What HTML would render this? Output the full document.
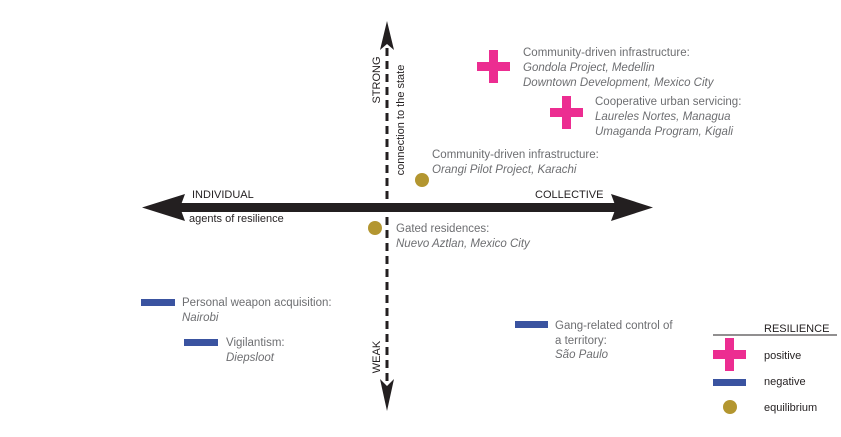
<!DOCTYPE html>
<html><head><meta charset="utf-8"><style>
html,body{margin:0;padding:0;background:#fff;}
svg{display:block;font-family:"Liberation Sans",sans-serif;}
.g{fill:#6d6e71;font-size:11.5px;}
.i{font-style:italic;}
.k{fill:#231f20;font-size:11px;}
</style></head><body>
<svg width="841" height="437" viewBox="0 0 841 437">
<!-- horizontal arrow -->
<rect x="180" y="203" width="438" height="9" fill="#231f20"/>
<polygon points="142,207.5 185,194 180,207.5 185,221" fill="#231f20"/>
<polygon points="653,207.5 611,194 616,207.5 611,221" fill="#231f20"/>
<!-- vertical dashed -->
<line x1="387" y1="48" x2="387" y2="385" stroke="#231f20" stroke-width="3" stroke-dasharray="8,5"/>
<polygon points="387,21 380,50 387,44 394,50" fill="#231f20"/>
<polygon points="387,411 380,379 387,386 394,379" fill="#231f20"/>
<text class="k" transform="translate(380,80) rotate(-90)" text-anchor="middle">STRONG</text>
<text class="k" transform="translate(404,120) rotate(-90)" text-anchor="middle">connection to the state</text>
<text class="k" transform="translate(380,357) rotate(-90)" text-anchor="middle">WEAK</text>
<text class="k" x="192" y="198">INDIVIDUAL</text>
<text class="k" x="535" y="198">COLLECTIVE</text>
<text class="k" x="189" y="222">agents of resilience</text>
<!-- crosses -->
<rect x="477" y="62" width="33" height="9" fill="#ec2d91"/><rect x="489" y="50" width="9" height="33" fill="#ec2d91"/>
<rect x="550" y="108" width="33" height="9" fill="#ec2d91"/><rect x="562" y="96" width="9" height="33" fill="#ec2d91"/>
<text class="g" x="523" y="56">Community-driven infrastructure:</text>
<text class="g i" x="523" y="71">Gondola Project, Medellin</text>
<text class="g i" x="523" y="86">Downtown Development, Mexico City</text>
<text class="g" x="595" y="105">Cooperative urban servicing:</text>
<text class="g i" x="595" y="120">Laureles Nortes, Managua</text>
<text class="g i" x="595" y="135">Umaganda Program, Kigali</text>
<circle cx="422" cy="180" r="7" fill="#b39630"/>
<text class="g" x="432" y="158">Community-driven infrastructure:</text>
<text class="g i" x="432" y="173">Orangi Pilot Project, Karachi</text>
<circle cx="375" cy="228" r="7" fill="#b39630"/>
<text class="g" x="396" y="232">Gated residences:</text>
<text class="g i" x="396" y="247">Nuevo Aztlan, Mexico City</text>
<!-- bars -->
<rect x="141" y="299" width="34" height="7" fill="#3a53a0"/>
<text class="g" x="182" y="306">Personal weapon acquisition:</text>
<text class="g i" x="182" y="321">Nairobi</text>
<rect x="184" y="339" width="34" height="7" fill="#3a53a0"/>
<text class="g" x="226" y="346">Vigilantism:</text>
<text class="g i" x="226" y="361">Diepsloot</text>
<rect x="515" y="321" width="33" height="7" fill="#3a53a0"/>
<text class="g" x="555" y="329">Gang-related control of</text>
<text class="g" x="555" y="344">a territory:</text>
<text class="g i" x="555" y="358">São Paulo</text>
<!-- legend -->
<text class="k" x="764" y="332">RESILIENCE</text>
<line x1="713" y1="335" x2="837" y2="335" stroke="#231f20" stroke-width="1"/>
<rect x="713" y="350" width="33" height="9" fill="#ec2d91"/><rect x="725" y="338" width="9" height="33" fill="#ec2d91"/>
<text class="k" x="764" y="359">positive</text>
<rect x="713" y="379" width="33" height="7" fill="#3a53a0"/>
<text class="k" x="764" y="385">negative</text>
<circle cx="730" cy="407" r="7" fill="#b39630"/>
<text class="k" x="764" y="411">equilibrium</text>
</svg>
</body></html>
